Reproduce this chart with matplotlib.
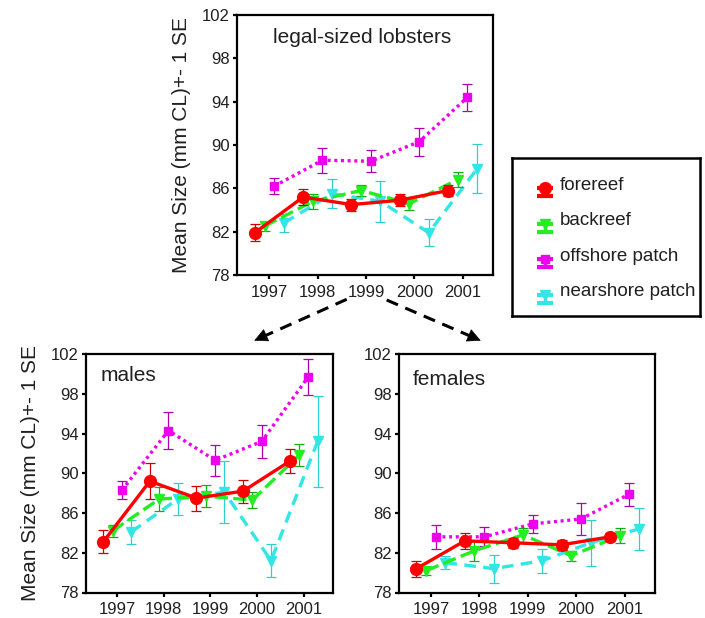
import matplotlib
matplotlib.use("Agg")
import matplotlib.pyplot as plt
from matplotlib.lines import Line2D
import numpy as np

plt.rcParams['font.family'] = ['Liberation Sans', 'DejaVu Sans']

years = [1997, 1998, 1999, 2000, 2001]
year_labels = ["1997", "1998", "1999", "2000", "2001"]
y_ticks = [78, 82, 86, 90, 94, 98, 102]
series_names = ["forereef", "backreef", "offshore patch", "nearshore patch"]

# legal-sized lobsters
legal_forereef = [81.9, 85.2, 84.5, 84.9, 85.8]
legal_forereef_se = [0.8, 0.78, 0.55, 0.55, 0.5]
legal_backreef = [82.5, 84.8, 85.8, 84.6, 86.8]
legal_backreef_se = [0.4, 0.7, 0.55, 0.6, 0.7]
legal_offshore = [86.2, 88.6, 88.5, 90.3, 94.4]
legal_offshore_se = [0.75, 1.15, 1.0, 1.3, 1.25]
legal_nearshore = [82.8, 85.5, 84.8, 81.9, 87.8]
legal_nearshore_se = [0.8, 1.35, 1.9, 1.25, 2.25]

# males
male_forereef = [83.1, 89.2, 87.5, 88.2, 91.2]
male_forereef_se = [1.15, 1.8, 1.25, 1.15, 1.2]
male_backreef = [84.2, 87.4, 87.7, 87.3, 91.8]
male_backreef_se = [0.6, 1.2, 1.1, 0.8, 1.1]
male_offshore = [88.3, 94.3, 91.3, 93.2, 99.7]
male_offshore_se = [0.9, 1.85, 1.55, 1.65, 1.8]
male_nearshore = [84.1, 87.4, 88.1, 81.2, 93.2]
male_nearshore_se = [1.2, 1.6, 3.1, 1.65, 4.55]

# females
female_forereef = [80.4, 83.2, 83.0, 82.8, 83.6]
female_forereef_se = [0.8, 0.8, 0.5, 0.5, 0.4]
female_backreef = [80.2, 82.2, 83.8, 81.7, 83.7]
female_backreef_se = [0.4, 1.0, 0.7, 0.5, 0.75]
female_offshore = [83.6, 83.6, 84.9, 85.4, 87.9]
female_offshore_se = [1.2, 0.95, 0.9, 1.65, 1.15]
female_nearshore = [81.0, 80.4, 81.2, 83.0, 84.4]
female_nearshore_se = [0.67, 1.4, 1.2, 2.3, 2.1]

# style per series: offset, line color, errbar color, linestyle, marker, markersize
styles = {
    "forereef": dict(off=-0.3, c="#ff0000", ec="#cc0000", ls="-", m="o", ms=8.5, z=5),
    "backreef": dict(off=-0.1, c="#22ee22", ec="#10b010", ls=(0, (4, 1.6)), m="v", ms=7, z=4),
    "offshore patch": dict(off=0.1, c="#ee00ee", ec="#b000b0", ls=(0, (0.9, 1.1)), m="s", ms=6, z=3),
    "nearshore patch": dict(off=0.3, c="#33e6e6", ec="#30d0d0", ls=(0, (3.5, 2.2)), m="v", ms=7, z=2),
}

W, H = 705, 618
fig = plt.figure(figsize=(W / 100, H / 100), dpi=100)


def ax_rect(left, top, right, bottom):
    return [left / W, 1 - bottom / H, (right - left) / W, (bottom - top) / H]


def draw_panel(ax, data, title, title_xy, ha, ylabel=True):
    for name in ["nearshore patch", "offshore patch", "backreef", "forereef"]:
        vals, se = data[name]
        st = styles[name]
        x = np.array(years) + st["off"]
        ax.errorbar(x, vals, yerr=se, fmt="none", ecolor=st["ec"], elinewidth=0.9,
                    capsize=3.8, capthick=0.9, zorder=st["z"])
        ax.plot(x, vals, color=st["c"], ls=st["ls"], lw=2.4, marker=st["m"],
                ms=st["ms"], mfc=st["c"], mec=st["c"], zorder=st["z"] + 0.5)
    ax.set_xlim(1996.33, 2001.63)
    ax.set_ylim(78, 102)
    ax.set_yticks(y_ticks)
    ax.set_yticklabels([str(t) for t in y_ticks])
    ax.set_xticks(years)
    ax.set_xticklabels(year_labels)
    ax.tick_params(direction="out", length=3, width=1.6, labelsize=12, pad=2,
                   colors="black", labelcolor="#202020")
    ax.tick_params(axis="x", pad=4)
    for sp in ax.spines.values():
        sp.set_linewidth(1.6)
    if ylabel:
        ax.set_ylabel("Mean Size (mm CL)+- 1 SE", fontsize=15, color="#202020", labelpad=8)
    ax.text(title_xy[0], title_xy[1], title, transform=ax.transAxes, ha=ha, va="center",
            fontsize=15, color="#202020")


ax_top = fig.add_axes(ax_rect(237, 15, 493, 275))
draw_panel(ax_top, {
    "forereef": (legal_forereef, legal_forereef_se),
    "backreef": (legal_backreef, legal_backreef_se),
    "offshore patch": (legal_offshore, legal_offshore_se),
    "nearshore patch": (legal_nearshore, legal_nearshore_se),
}, "legal-sized lobsters", (0.49, 0.915), "center")

ax_m = fig.add_axes(ax_rect(86, 354, 333, 592.5))
draw_panel(ax_m, {
    "forereef": (male_forereef, male_forereef_se),
    "backreef": (male_backreef, male_backreef_se),
    "offshore patch": (male_offshore, male_offshore_se),
    "nearshore patch": (male_nearshore, male_nearshore_se),
}, "males", (0.057, 0.91), "left")

ax_f = fig.add_axes(ax_rect(398.5, 354, 655, 592.5))
draw_panel(ax_f, {
    "forereef": (female_forereef, female_forereef_se),
    "backreef": (female_backreef, female_backreef_se),
    "offshore patch": (female_offshore, female_offshore_se),
    "nearshore patch": (female_nearshore, female_nearshore_se),
}, "females", (0.057, 0.893), "left", ylabel=False)

# legend box
ax_leg = fig.add_axes(ax_rect(512, 158, 700, 316))
ax_leg.set_xlim(0, 1)
ax_leg.set_ylim(1, 0)
ax_leg.set_xticks([])
ax_leg.set_yticks([])
for sp in ax_leg.spines.values():
    sp.set_linewidth(1.8)
leg_y = [0.171, 0.397, 0.622, 0.848]
for name, yy in zip(series_names, leg_y):
    st = styles[name]
    ax_leg.errorbar([0.176], [yy + 0.02], yerr=[[0], [0.05]], fmt="none", ecolor=st["c"],
                    elinewidth=2.5, capsize=6, capthick=3)
    ax_leg.plot([0.176], [yy + 0.02], marker=st["m"], ms=st["ms"], color=st["c"], ls="none")
    ax_leg.text(0.255, yy, name, ha="left", va="center", fontsize=13.5, color="#202020")


# dashed arrows between panels
def fig_pt(px, py):
    return (px / W, 1 - py / H)


for (x0, y0), (x1, y1) in [((346.7, 299.3), (251.7, 341.7)), ((386.7, 300.0), (483.3, 341.7))]:
    dx, dy = x1 - x0, y1 - y0
    L = np.hypot(dx, dy)
    ux, uy = dx / L, dy / L
    bx, by = x1 - ux * 14, y1 - uy * 14
    p0 = fig_pt(x0, y0)
    pb = fig_pt(bx, by)
    fig.add_artist(Line2D([p0[0], pb[0]], [p0[1], pb[1]], transform=fig.transFigure,
                          color="black", lw=2.2, ls=(0, (4, 2.6))))
    fig.add_artist(matplotlib.patches.FancyArrowPatch(
        fig_pt(bx + ux * 2, by + uy * 2), fig_pt(x1, y1), transform=fig.transFigure,
        arrowstyle="-|>", mutation_scale=22, color="black", lw=0.5))

fig.savefig("out.png", dpi=100)
